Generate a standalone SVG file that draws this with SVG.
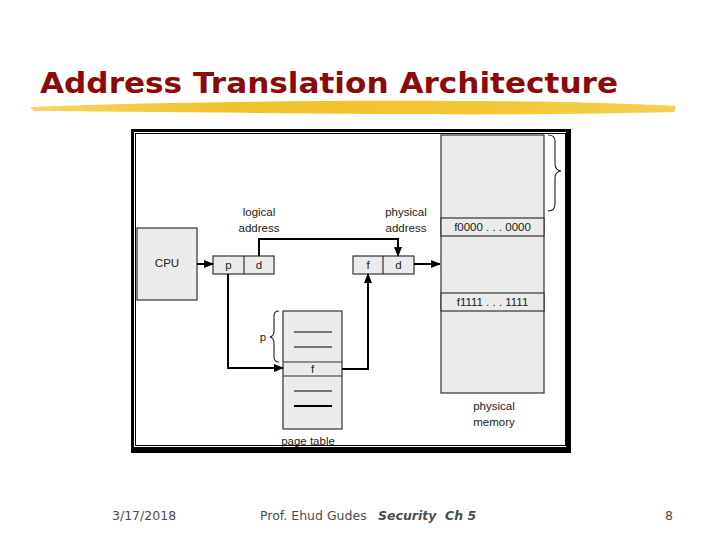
<svg xmlns="http://www.w3.org/2000/svg" width="720" height="540" viewBox="0 0 720 540">
<style>
.box{fill:#ebebeb;stroke:#333;stroke-width:1.2}
.lbl{font-family:"Liberation Sans",Arial,sans-serif;font-size:11.5px;fill:#222;text-anchor:middle}
.conn{fill:none;stroke:#000;stroke-width:2}
.brace{fill:none;stroke:#222;stroke-width:1.1}
.foot{font-family:"DejaVu Sans",Verdana,sans-serif;font-size:12.5px;fill:#4d4d4d}
</style>
<defs>
<marker id="ah" markerWidth="10" markerHeight="8" refX="9" refY="4" orient="auto" markerUnits="userSpaceOnUse">
<path d="M0,0 L10,4 L0,8 Z" fill="#000"/>
</marker>
<linearGradient id="yel" x1="0" y1="0" x2="1" y2="0">
<stop offset="0" stop-color="#f6d66a"/>
<stop offset="0.3" stop-color="#f0c22a"/>
<stop offset="0.7" stop-color="#f3c636"/>
<stop offset="1" stop-color="#f5cf50"/>
</linearGradient>
</defs>
<rect width="720" height="540" fill="#fff"/>
<g id="title">
<path d="M30,107 C120,103 300,100 460,101 C560,101 640,104 676,106 L674,112 C600,114 500,115 380,114 C260,113 120,112 34,111 Z" fill="url(#yel)"/>
<text x="40" y="93" font-family="'DejaVu Sans',Verdana,sans-serif" font-weight="bold" font-size="29" fill="#8b0a0a" textLength="578" lengthAdjust="spacingAndGlyphs">Address Translation Architecture</text>
</g>
<g id="frame">
<path d="M131,129 H571 V453 H131 Z M134,132 V447 H566 V132 Z" fill="#000" fill-rule="evenodd"/>
<rect x="135.5" y="133.5" width="430" height="312" fill="none" stroke="#000" stroke-width="1"/>
</g>
<g id="cpu">
<rect class="box" x="137" y="228" width="60" height="72"/>
<text class="lbl" x="167" y="267">CPU</text>
</g>
<g id="logical">
<text class="lbl" x="259" y="216">logical</text>
<text class="lbl" x="259" y="232">address</text>
<rect class="box" x="213" y="256" width="61" height="18"/>
<line x1="244" y1="256" x2="244" y2="274" stroke="#333" stroke-width="1.2"/>
<text class="lbl" x="228.5" y="269">p</text>
<text class="lbl" x="259" y="269">d</text>
</g>
<g id="physical">
<text class="lbl" x="406" y="216">physical</text>
<text class="lbl" x="406" y="232">address</text>
<rect class="box" x="353" y="256" width="61" height="18"/>
<line x1="383" y1="256" x2="383" y2="274" stroke="#333" stroke-width="1.2"/>
<text class="lbl" x="368" y="269">f</text>
<text class="lbl" x="398.5" y="269">d</text>
</g>
<g id="pagetable">
<rect class="box" x="283" y="311" width="59" height="118"/>
<line x1="283" y1="362" x2="342" y2="362" stroke="#333" stroke-width="1.2"/>
<line x1="283" y1="376" x2="342" y2="376" stroke="#333" stroke-width="1.2"/>
<text class="lbl" x="312.5" y="373">f</text>
<line x1="294" y1="332" x2="332" y2="332" stroke="#000" stroke-width="1.2"/>
<line x1="294" y1="347" x2="332" y2="347" stroke="#000" stroke-width="1.2"/>
<line x1="294" y1="391" x2="332" y2="391" stroke="#000" stroke-width="1.2"/>
<line x1="294" y1="406" x2="332" y2="406" stroke="#000" stroke-width="2"/>
<path class="brace" d="M279,311 Q274,311 274,316 V331 Q274,336 270,337 Q274,338 274,343 V357 Q274,362 279,362"/>
<text class="lbl" x="263" y="341">p</text>
<text class="lbl" x="308" y="445">page table</text>
</g>
<g id="memory">
<rect class="box" x="441" y="135" width="103" height="258"/>
<rect class="box" x="441" y="218" width="103" height="18"/>
<rect class="box" x="441" y="293" width="103" height="18"/>
<text class="lbl" x="492.5" y="231">f0000 . . . 0000</text>
<text class="lbl" x="492.5" y="306">f1111 . . . 1111</text>
<path class="brace" d="M548,135 Q555,135 555,141 V164 Q555,170 561,171 Q555,172 555,178 V204 Q555,211 548,211"/>
<text class="lbl" x="494" y="410">physical</text>
<text class="lbl" x="494" y="426">memory</text>
</g>
<g id="connectors">
<line class="conn" x1="197" y1="264" x2="213" y2="264" marker-end="url(#ah)"/>
<polyline class="conn" points="259,256 259,239 398,239 398,256" marker-end="url(#ah)"/>
<line class="conn" x1="414" y1="264" x2="440" y2="264" marker-end="url(#ah)"/>
<polyline class="conn" points="228,274 228,368 283,368" marker-end="url(#ah)"/>
<polyline class="conn" points="342,369 368,369 368,274" marker-end="url(#ah)"/>
</g>
<g id="footer">
<text class="foot" x="112" y="520">3/17/2018</text>
<text class="foot" x="260" y="520">Prof. Ehud Gudes</text>
<text class="foot" x="378" y="520" font-weight="bold" font-style="italic">Security</text>
<text class="foot" x="445" y="520" font-weight="bold" font-style="italic">Ch 5</text>
<text class="foot" x="665" y="520">8</text>
</g>
</svg>
